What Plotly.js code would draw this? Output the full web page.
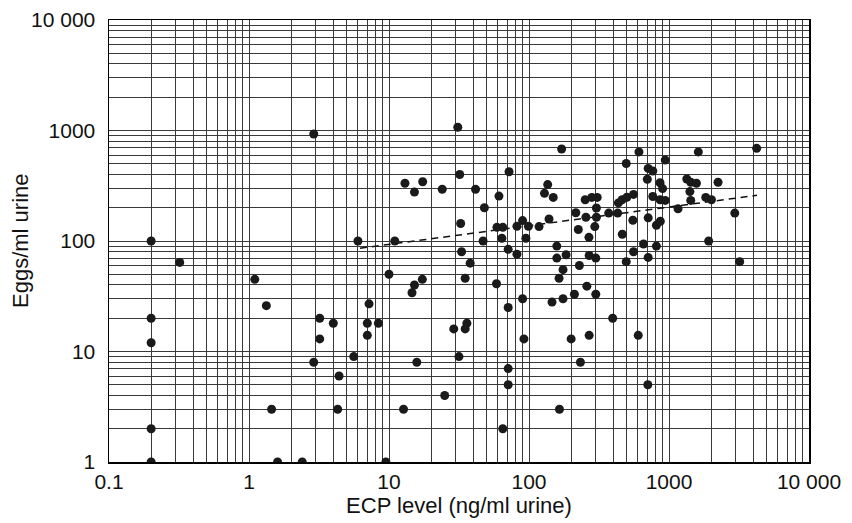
<!DOCTYPE html>
<html>
<head>
<meta charset="utf-8">
<script src="https://cdn.plot.ly/plotly-3.0.1.min.js"></script>
<style>html,body{margin:0;padding:0;background:#fff;}#chart{width:852px;height:523px;}</style>
</head>
<body>
<div id="chart"></div>
<script>
// ECP level (ng/ml urine) for each subject
const ecp = [0.2,0.32,0.2,0.2,0.2,0.2,1.1,1.33,1.45,1.6,2.4,3.2,4.0,3.2,2.9,4.4,4.3,5.6,7.2,7.0,
  7.0,8.4,9.5,14.6,15.2,17.3,15.8,12.7,25,29,35,36,31.6,58.6,71,90,92,71,71,65,
  2.9,31,13,15.2,17.4,24,32,41.5,72,61,48,32.5,6,11,10,47,33,38,35,64,
  59,65,71,82,82,90,99,95,171,136,129,149,118,139,610,495,940,1620,710,766,
  700,863,900,1340,1430,1570,1410,2240,252,281,307,216,303,255,303,295,225,371,430,435,
  462,500,558,552,710,766,863,940,1160,1430,1830,2010,4230,2950,1920,3200,268,158,158,184,
  175,164,229,269,300,259,211,175,300,464,813,867,658,813,558,710,495,146,396,200,
  269,603,233,706,165];
// Eggs/ml urine for each subject
const eggs = [100,64,20,12,2,1,45,26,3,1,1,20,18,13,8,6,3,9,27,18,
  14,18,1,34,40,45,8,3,4,16,16,18,9,41,25,30,13,7,5,2,
  930,1070,333,277,344,294,400,294,423,255,200,144,100,100,50,100,80,63,46,106,
  133,133,84,76,136,153,136,106,680,324,270,248,135,158,640,503,540,640,454,430,
  362,337,298,364,340,333,280,340,236,248,248,180,199,164,164,135,127,179,179,221,
  236,249,264,154,162,253,236,233,196,233,248,236,690,179,100,65,108,90,70,75,
  55,46,60,74,70,39,33,30,33,115,139,151,94,90,80,71,65,28,20,13,
  14,14,8,5,3];
// Fitted trend (dashed)
const fitX = [6.2, 4250];
const fitY = [86, 259];

const xTickVals = [0.1, 1, 10, 100, 1000, 10000];
const xTickText = ['0.1', '1', '10', '100', '1000', '10 000'];
const yTickVals = [1, 10, 100, 1000, 10000];
const yTickText = ['1', '10', '100', '1000', '10 000'];

function gridTicks(majors, labels) {
  const vals = [], text = [];
  for (let i = 0; i < majors.length; i++) {
    for (let k = 1; k <= 9; k++) {
      if (i === majors.length - 1 && k > 1) break;
      vals.push(majors[i] * k);
      text.push(k === 1 ? labels[i] : '');
    }
  }
  return {vals, text};
}
const gx = gridTicks(xTickVals, xTickText);
const gy = gridTicks(yTickVals, yTickText);

const FONT = 'Liberation Sans, Arial, Helvetica, sans-serif';

const traces = [
  {x: fitX, y: fitY, mode: 'lines', type: 'scatter',
   line: {color: '#111', width: 1.5, dash: '7px,5px'}, hoverinfo: 'skip'},
  {x: ecp, y: eggs, mode: 'markers', type: 'scatter',
   marker: {color: '#1a1a1a', size: 9}}
];

const axisCommon = {
  type: 'log', showline: true, mirror: true, linecolor: '#000', linewidth: 1.5,
  showgrid: true, gridcolor: '#3a3a3a', gridwidth: 1, zeroline: false,
  ticks: '', tickmode: 'array',
  tickfont: {family: FONT, size: 21, color: '#111'}
};

const layout = {
  width: 852, height: 523,
  margin: {l: 109, r: 43, t: 20, b: 61},
  paper_bgcolor: '#fff', plot_bgcolor: '#fff',
  showlegend: false,
  xaxis: Object.assign({}, axisCommon, {
    range: [-1, 4], tickvals: gx.vals, ticktext: gx.text,
    title: {text: 'ECP level (ng/ml urine)', font: {family: FONT, size: 22, color: '#111'}, standoff: 4}
  }),
  yaxis: Object.assign({}, axisCommon, {
    range: [0, 4], tickvals: gy.vals, ticktext: gy.text, ticklabelstandoff: 8
  }),
  annotations: [{
    text: 'Eggs/ml urine', textangle: -90, showarrow: false,
    xref: 'paper', yref: 'paper', x: -89 / 700, y: 0.5,
    xanchor: 'center', yanchor: 'middle',
    font: {family: FONT, size: 22, color: '#111'}
  }]
};

Plotly.newPlot('chart', traces, layout, {displayModeBar: false, staticPlot: true});
</script>
</body>
</html>
